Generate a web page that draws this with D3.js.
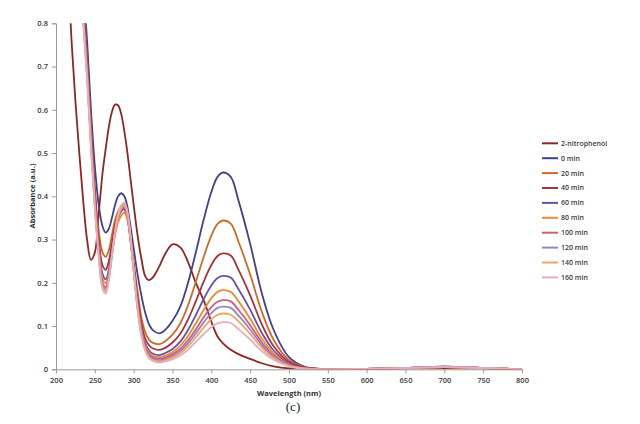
<!DOCTYPE html>
<html>
<head>
<meta charset="utf-8">
<script src="https://cdn.jsdelivr.net/npm/d3@7"></script>
<style>
  body { margin: 0; background: #fff; }
  text { font-family: "Open Sans", "DejaVu Sans", sans-serif; }
</style>
</head>
<body>
<div id="chart"></div>
<script>
// wavelength grid (nm) shared by all spectra
const wavelengths = [215, 220, 225, 230, 235, 240, 245, 250, 255, 260, 264, 268, 272, 276, 280, 284, 288, 292, 296, 300, 305, 310, 315, 320, 325, 333, 340, 350, 360, 370, 380, 390, 400, 408, 415, 425, 435, 450, 465, 480, 500, 520, 540, 560, 600, 650, 700, 750, 800];

const nitrophenol = [0.95, 0.76, 0.62, 0.5, 0.39, 0.3, 0.253, 0.27, 0.36, 0.455, 0.51, 0.56, 0.595, 0.612, 0.61, 0.59, 0.55, 0.5, 0.44, 0.38, 0.31, 0.255, 0.215, 0.206, 0.213, 0.238, 0.265, 0.289, 0.282, 0.248, 0.2, 0.16, 0.11, 0.076, 0.06, 0.045, 0.035, 0.024, 0.014, 0.007, 0.002, 0.001, 0, 0, 0.001, 0.002, 0.003, 0.002, 0];
const min0 = [1.3, 1.2, 1.1, 0.98, 0.88, 0.76, 0.6, 0.47, 0.38, 0.33, 0.316, 0.325, 0.35, 0.38, 0.4, 0.407, 0.4, 0.375, 0.33, 0.28, 0.22, 0.17, 0.13, 0.103, 0.09, 0.083, 0.09, 0.112, 0.145, 0.2, 0.27, 0.345, 0.41, 0.445, 0.455, 0.445, 0.39, 0.29, 0.176, 0.092, 0.028, 0.006, 0.001, 0, 0.001, 0.003, 0.006, 0.003, 0];
const min20 = [1.3, 1.2, 1.1, 0.96, 0.85, 0.72, 0.56, 0.42, 0.32, 0.27, 0.26, 0.275, 0.31, 0.345, 0.365, 0.375, 0.375, 0.355, 0.31, 0.25, 0.18, 0.12, 0.085, 0.068, 0.061, 0.058, 0.064, 0.08, 0.106, 0.148, 0.202, 0.259, 0.309, 0.336, 0.344, 0.337, 0.295, 0.219, 0.133, 0.069, 0.021, 0.005, 0.001, 0, 0.001, 0.003, 0.005, 0.003, 0];
const min40 = [1.3, 1.2, 1.1, 0.95, 0.84, 0.71, 0.55, 0.41, 0.3, 0.24, 0.23, 0.25, 0.29, 0.33, 0.355, 0.368, 0.37, 0.35, 0.3, 0.24, 0.165, 0.105, 0.07, 0.055, 0.048, 0.045, 0.049, 0.062, 0.082, 0.115, 0.157, 0.202, 0.241, 0.262, 0.268, 0.263, 0.23, 0.171, 0.104, 0.054, 0.017, 0.004, 0.001, 0, 0.001, 0.003, 0.005, 0.003, 0];
const min60 = [1.3, 1.2, 1.1, 0.95, 0.83, 0.7, 0.54, 0.4, 0.29, 0.22, 0.208, 0.23, 0.275, 0.32, 0.35, 0.365, 0.37, 0.35, 0.3, 0.235, 0.155, 0.095, 0.06, 0.043, 0.036, 0.033, 0.037, 0.047, 0.064, 0.091, 0.125, 0.162, 0.194, 0.211, 0.216, 0.212, 0.185, 0.138, 0.084, 0.044, 0.013, 0.003, 0, 0, 0.001, 0.003, 0.006, 0.003, 0];
const min80 = [1.3, 1.2, 1.1, 0.94, 0.82, 0.69, 0.53, 0.39, 0.28, 0.21, 0.199, 0.22, 0.265, 0.31, 0.34, 0.355, 0.362, 0.345, 0.295, 0.23, 0.15, 0.09, 0.055, 0.038, 0.031, 0.028, 0.031, 0.04, 0.054, 0.077, 0.106, 0.137, 0.164, 0.179, 0.183, 0.179, 0.157, 0.117, 0.071, 0.037, 0.011, 0.002, 0, 0, 0.001, 0.003, 0.005, 0.003, 0];
const min100 = [1.3, 1.2, 1.1, 0.94, 0.82, 0.69, 0.53, 0.385, 0.275, 0.2, 0.19, 0.215, 0.265, 0.315, 0.35, 0.368, 0.375, 0.355, 0.3, 0.23, 0.145, 0.085, 0.05, 0.034, 0.027, 0.024, 0.027, 0.035, 0.047, 0.067, 0.092, 0.12, 0.144, 0.156, 0.16, 0.157, 0.137, 0.102, 0.062, 0.032, 0.01, 0.002, 0, 0, 0.001, 0.003, 0.005, 0.003, 0];
const min120 = [1.3, 1.2, 1.1, 0.93, 0.81, 0.68, 0.52, 0.38, 0.27, 0.195, 0.185, 0.212, 0.265, 0.318, 0.355, 0.374, 0.38, 0.36, 0.305, 0.23, 0.143, 0.082, 0.047, 0.03, 0.024, 0.021, 0.023, 0.031, 0.042, 0.06, 0.083, 0.108, 0.13, 0.142, 0.145, 0.142, 0.124, 0.092, 0.056, 0.029, 0.009, 0.002, 0, 0, 0.001, 0.003, 0.006, 0.003, 0];
const min140 = [1.3, 1.2, 1.1, 0.93, 0.81, 0.68, 0.52, 0.375, 0.265, 0.19, 0.18, 0.208, 0.262, 0.315, 0.352, 0.372, 0.378, 0.358, 0.302, 0.226, 0.14, 0.079, 0.044, 0.027, 0.021, 0.018, 0.02, 0.027, 0.037, 0.053, 0.074, 0.096, 0.116, 0.126, 0.129, 0.126, 0.111, 0.082, 0.05, 0.026, 0.008, 0.002, 0, 0, 0.001, 0.003, 0.005, 0.003, 0];
const min160 = [1.3, 1.2, 1.1, 0.92, 0.8, 0.67, 0.51, 0.37, 0.26, 0.185, 0.175, 0.205, 0.262, 0.318, 0.358, 0.38, 0.385, 0.365, 0.308, 0.23, 0.14, 0.077, 0.042, 0.025, 0.019, 0.016, 0.018, 0.023, 0.032, 0.045, 0.063, 0.081, 0.098, 0.106, 0.109, 0.107, 0.093, 0.069, 0.042, 0.022, 0.007, 0.001, 0, 0, 0.001, 0.003, 0.005, 0.003, 0];

const seriesNames = ["2-nitrophenol", "0 min", "20 min", "40 min", "60 min", "80 min", "100 min", "120 min", "140 min", "160 min"];
const seriesValues = [nitrophenol, min0, min20, min40, min60, min80, min100, min120, min140, min160];
const seriesColors = ["#8e2626", "#463f8a", "#cd6a2a", "#a8323e", "#6554a3", "#ec8a3c", "#cf5f72", "#9486c0", "#f3a266", "#e6adbb"];

const xTicks = [200, 250, 300, 350, 400, 450, 500, 550, 600, 650, 700, 750, 800];
const yTicks = [0, 0.1, 0.2, 0.3, 0.4, 0.5, 0.6, 0.7, 0.8];

const width = 640;
const height = 424;
const plot = { left: 56, right: 522, top: 23.3, bottom: 369.3 };

const svg = d3.select("#chart").append("svg")
  .attr("width", width)
  .attr("height", height);

const x = d3.scaleLinear().domain([200, 800]).range([plot.left, plot.right]);
const y = d3.scaleLinear().domain([0, 0.8]).range([plot.bottom, plot.top]);

svg.append("defs").append("clipPath")
  .attr("id", "plotClip")
  .append("rect")
  .attr("x", plot.left)
  .attr("y", plot.top)
  .attr("width", plot.right - plot.left + 2)
  .attr("height", plot.bottom - plot.top);

// axes
const yAxis = svg.append("g")
  .attr("transform", `translate(${plot.left},0)`)
  .call(d3.axisLeft(y).tickValues(yTicks).tickSize(4).tickPadding(4)
    .tickFormat(d => d === 0 ? "0" : d3.format(".1f")(d)));

const xAxis = svg.append("g")
  .attr("transform", `translate(0,${plot.bottom})`)
  .call(d3.axisBottom(x).tickValues(xTicks).tickSize(4).tickPadding(4));

[yAxis, xAxis].forEach(a => {
  a.select(".domain").attr("stroke", "#9a9a9a");
  a.selectAll(".tick line").attr("stroke", "#9a9a9a");
  a.selectAll(".tick text")
    .attr("fill", "#3a3a3a")
    .style("font-size", "7.5px")
    .style("font-weight", "600");
});

svg.append("text")
  .attr("x", 289)
  .attr("y", 396)
  .attr("text-anchor", "middle")
  .attr("fill", "#333")
  .style("font-size", "7.5px")
  .style("font-weight", "700")
  .text("Wavelength  (nm)");

svg.append("text")
  .attr("transform", "rotate(-90)")
  .attr("x", -196)
  .attr("y", 35)
  .attr("text-anchor", "middle")
  .attr("fill", "#333")
  .style("font-size", "7.5px")
  .style("font-weight", "700")
  .text("Absorbance  (a.u.)");

svg.append("text")
  .attr("x", 293)
  .attr("y", 411)
  .attr("text-anchor", "middle")
  .attr("fill", "#222")
  .style("font-family", "'Liberation Serif', serif")
  .style("font-size", "13px")
  .text("(c)");

// spectra
const line = d3.line()
  .x(d => x(d[0]))
  .y(d => y(d[1]))
  .curve(d3.curveCatmullRom.alpha(0.5));

const lines = svg.append("g").attr("clip-path", "url(#plotClip)");
seriesValues.forEach((vals, i) => {
  lines.append("path")
    .datum(wavelengths.map((w, j) => [w, vals[j]]))
    .attr("fill", "none")
    .attr("stroke", seriesColors[i])
    .attr("stroke-width", 1.8)
    .attr("stroke-linejoin", "round")
    .attr("d", line);
});

// legend
const legend = svg.append("g");
seriesNames.forEach((name, i) => {
  const ly = 143.3 + i * 14.9;
  legend.append("line")
    .attr("x1", 542).attr("x2", 558)
    .attr("y1", ly).attr("y2", ly)
    .attr("stroke", seriesColors[i])
    .attr("stroke-width", 2);
  legend.append("text")
    .attr("x", 561)
    .attr("y", ly)
    .attr("dy", "0.35em")
    .attr("fill", "#3a3a3a")
    .style("font-size", "7px")
    .style("font-weight", "600")
    .text(name);
});
</script>
</body>
</html>
